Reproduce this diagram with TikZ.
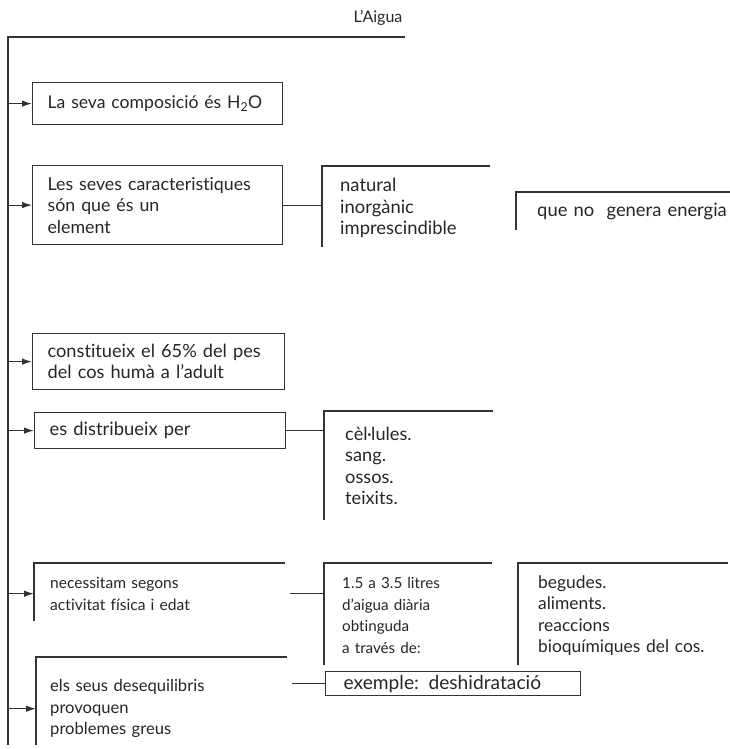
\documentclass[tikz,border=0pt]{standalone}
\usepackage{fontspec}
\setmainfont{Lato}[Ligatures={TeX,NoCommon}]
\usetikzlibrary{arrows.meta}
\begin{document}
\begin{tikzpicture}[x=1pt,y=-1pt,
  ln/.style={draw=black!80, line width=1.2pt},
  arr/.style={ln, -{Latex[length=10pt,width=6.5pt]}},
  fs/.style={font={\fontsize{#1}{21.5}\selectfont}},
  cell/.style={rectangle, anchor=north west, inner ysep=0pt, align=left, text=black!85},
  boxed/.style={cell, draw=black!80, line width=1.2pt}
]
\useasboundingbox (0,0) rectangle (730,749);

\node[fs=16, text=black!85] (title) at (378,18) {L'Aigua};
\coordinate (tl) at (8,37);
\coordinate (tr) at (405,37);
\coordinate (bl) at (8,745);
\draw[ln] (tr) -- (tl) -- (bl);

% box 1
\node[boxed, fs=17.6, inner xsep=15pt, text width=220pt, minimum height=42pt] (b1) at (32,82) {La seva composició és H\textsubscript{2}O};
% box 2
\node[boxed, fs=17.8, inner xsep=15pt, text width=220pt, minimum height=79pt] (b2) at (32,165) {Les seves caracteristiques\\són que és un\\element};
\node[cell, fs=18.4, inner xsep=18pt, text width=132pt, minimum height=78pt] (b2a) at (322,169) {natural\\inorgànic\\imprescindible};
\coordinate (b2atop) at (322,166);
\node[cell, fs=18.4, inner xsep=21pt, text width=172pt, minimum height=38pt] (b2b) at (516,192) {\mbox{que no\ \ genera energia}};
% box 3
\node[boxed, fs=18.2, inner xsep=15pt, text width=222pt, minimum height=56pt] (b3) at (32,333) {constitueix el 65\% del pes\\del cos humà a l'adult};
% box 4
\node[boxed, fs=18.4, inner xsep=15pt, text width=221pt, minimum height=36pt] (b4) at (34,412) {es distribueix per};
\node[cell, fs=18.2, inner xsep=21pt, text width=127pt, minimum height=109pt] (b4a) at (324,411) {cèl·lules.\\sang.\\ossos.\\teixits.};
% box 5
\node[cell, fs=15.6, inner xsep=16pt, text width=219pt, minimum height=55pt] (b5) at (34,566) {necessitam segons\\activitat física i edat};
\coordinate (b5top) at (34,563);
\node[cell, fs=15.2, inner xsep=18pt, text width=132pt, minimum height=99pt] (b5a) at (324,566) {1.5 a 3.5 litres\\d'aigua diària\\obtinguda\\a través de:};
\coordinate (b5atop) at (324,563);
\node[cell, fs=17.4, inner xsep=20pt, text width=170pt, minimum height=99pt] (b5b) at (518,566) {\mbox{begudes.}\\\mbox{aliments.}\\\mbox{reaccions}\\\mbox{bioquímiques del cos.}};
\coordinate (b5btop) at (518,563);
% box 6
\node[cell, fs=16.6, inner xsep=14pt, text width=223pt, minimum height=73pt] (b6) at (36,672) {els seus desequilibris\\provoquen\\problemes greus};
\coordinate (b6top) at (36,657);
\node[boxed, fs=19.2, inner xsep=18pt, text width=219pt, minimum height=24pt] (b6a) at (325,671) {\mbox{exemple: deshidratació}};

% open brackets
\draw[ln] (b2a.south west) -- (b2atop) -- (b2atop -| b2a.north east);
\draw[ln] (b2b.south west) -- (b2b.north west) -- (b2b.north east);
\draw[ln] (b4a.south west) -- (b4a.north west) -- (b4a.north east);
\draw[ln] (b5.south west) -- (b5top) -- (b5top -| b5.north east);
\draw[ln] (b5a.south west) -- (b5atop) -- (b5atop -| b5a.north east);
\draw[ln] (b5b.south west) -- (b5btop) -- (b5btop -| b5b.north east);
\draw[ln] (b6.south west) -- (b6top) -- (b6top -| b6.north east);

% arrows from the main line
\draw[arr] (tl |- b1.west) -- (b1.west);
\draw[arr] (tl |- b2.west) -- (b2.west);
\draw[arr] (tl |- b3.west) -- (b3.west);
\draw[arr] (tl |- b4.west) -- (b4.west);
\draw[arr] (tl |- b5.west) -- (b5.west);
\draw[arr] (tl |- b6.west) -- (b6.west);

% connectors
\draw[ln] (b2.east) -- (b2.east -| b2a.west);
\draw[ln] (b4.east) -- (b4.east -| b4a.west);
\draw[ln] ([xshift=5pt]b5.east) -- (b5.east -| b5a.west);
\draw[ln] ([xshift=5pt]b6a.west -| b6.east) -- (b6a.west);
\end{tikzpicture}
\end{document}
